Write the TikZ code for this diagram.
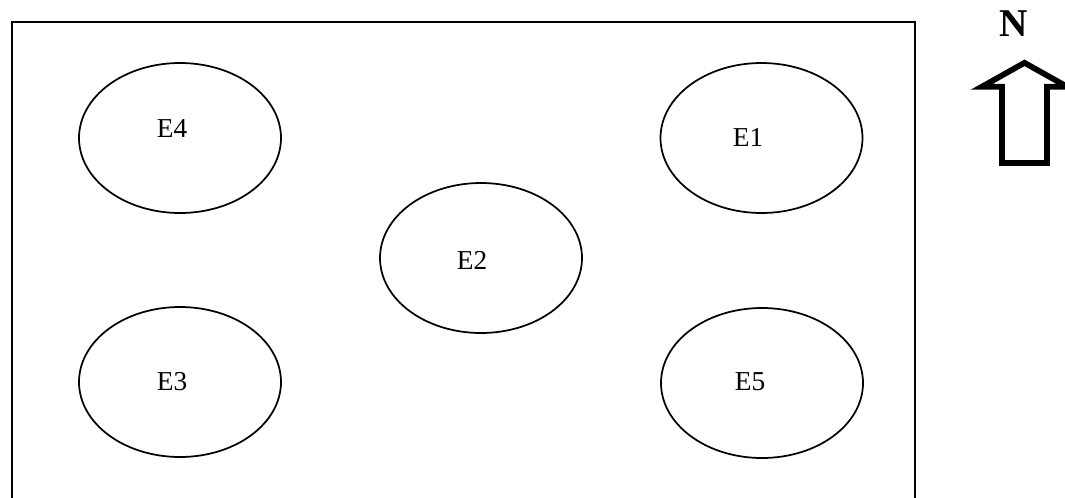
\documentclass[tikz,border=0pt]{standalone}
\usepackage{fontspec}
\setmainfont{Liberation Serif}
\usetikzlibrary{shapes.geometric}

\begin{document}
\begin{tikzpicture}[x=0.75pt, y=-0.75pt,
    zone/.style={draw, ellipse, line width=1.3pt, minimum width=151.5pt, minimum height=112.5pt, inner sep=0pt},
    tag/.style={inner sep=0pt, font=\fontsize{20.5}{24}\selectfont}]
    \useasboundingbox (0,0) rectangle (1065,497);
    % site boundary (runs off the bottom)
    \draw[line width=1.5pt] (915,510) -- (915,21.5) -- (11.5,21.5) -- (11.5,510);
    \node[zone] (e4) at (180,138) {};
    \node[zone] (e1) at (761.5,138) {};
    \node[zone] (e2) at (481,258) {};
    \node[zone] (e3) at (180,382) {};
    \node[zone] (e5) at (762,383) {};
    \node[tag] (l4) at (172,128) {E4};
    \node[tag] (l1) at (748,137) {E1};
    \node[tag] (l2) at (472,260) {E2};
    \node[tag] (l3) at (172,382) {E3};
    \node[tag] (l5) at (750,382) {E5};
    % north arrow
    \node[font=\bfseries\fontsize{29.5}{32}\selectfont, inner sep=0pt, anchor=base] (north) at (1013.5,36.7) {N};
    \draw[line width=4.3pt, miter limit=10] (1002,163) -- (1002,86.8) -- (981.7,86.8) -- (1024.5,62.8)
        -- (1067.3,86.8) -- (1047,86.8) -- (1047,163) -- cycle;
\end{tikzpicture}
\end{document}
